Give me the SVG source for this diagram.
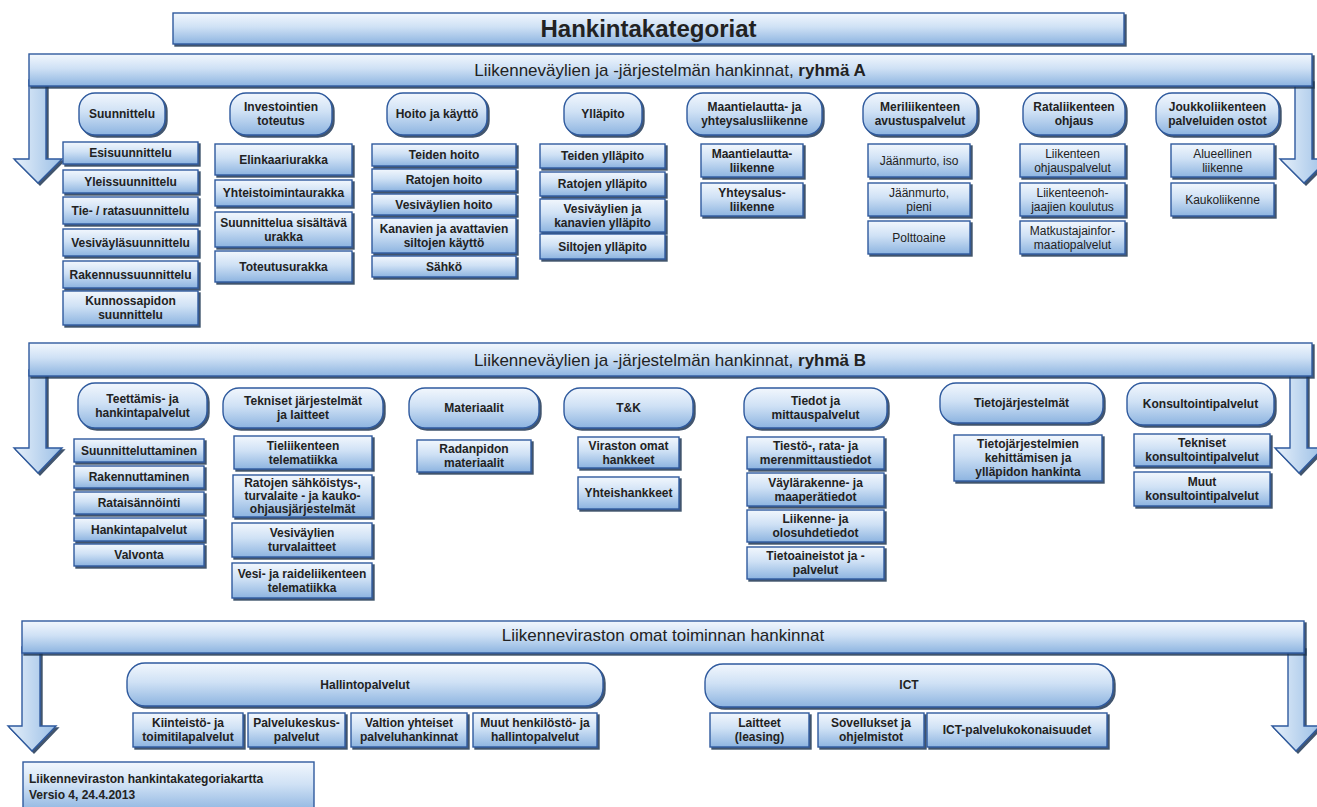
<svg xmlns="http://www.w3.org/2000/svg" width="1317" height="807" viewBox="0 0 1317 807">
<defs>
<linearGradient id="gv" x1="0" y1="0" x2="0" y2="1">
<stop offset="0" stop-color="#f2f7fd"/>
<stop offset="0.45" stop-color="#cfe1f5"/>
<stop offset="1" stop-color="#8db4e0"/>
</linearGradient>
<linearGradient id="gh" x1="0" y1="0" x2="1" y2="0">
<stop offset="0" stop-color="#e6f0fa"/>
<stop offset="1" stop-color="#9bbfe6"/>
</linearGradient>
<filter id="sh" x="-5%" y="-10%" width="115%" height="140%">
<feDropShadow dx="2" dy="2" stdDeviation="0.6" flood-color="#1d3552" flood-opacity="0.85"/>
</filter>
</defs>
<style>
.box{fill:url(#gv);stroke:#2f5a9e;stroke-width:1.4;filter:url(#sh)}
.pill{fill:url(#gv);stroke:#2f5a9e;stroke-width:1.4;filter:url(#sh)}
.arr{fill:url(#gh);stroke:#2f5a9e;stroke-width:1.4;filter:url(#sh)}
.ban{fill:url(#gv);stroke:#2f5a9e;stroke-width:1.4;filter:url(#sh)}
text{font-family:"Liberation Sans",Arial,sans-serif;fill:#222;text-anchor:middle}
.b{font-size:12px;font-weight:bold}
.r{font-size:12px}
.bt{font-size:17px}
.tt{font-size:24px;font-weight:bold}
.ft{font-size:12px;font-weight:bold;text-anchor:start}
</style>

<g id="title"><rect class="box" x="173" y="13" width="951" height="31"/><text class="tt" x="648.5" y="37">Hankintakategoriat</text></g>

<g id="connectors">
<polygon class="arr" points="29,80 46,80 46,159 62,159 38,183 14,159 29,159"/>
<polygon class="arr" points="1295,80 1312,80 1312,159 1328,159 1304,183 1280,159 1295,159"/>
<polygon class="arr" points="29,370 46,370 46,448 62,448 38,473 14,448 29,448"/>
<polygon class="arr" points="1290,370 1307,370 1307,448 1323,448 1299,473 1275,448 1290,448"/>
<polygon class="arr" points="22,647 40,647 40,726 56,726 32,751 8,726 22,726"/>
<polygon class="arr" points="1288,647 1304,647 1304,726 1320,726 1296,751 1272,726 1288,726"/>
</g>

<g id="banner-a"><rect class="ban" x="29" y="54" width="1283" height="32"/><text class="bt" x="670" y="76">Liikenneväylien ja -järjestelmän hankinnat, <tspan font-weight="bold">ryhmä A</tspan></text></g>
<g id="banner-b"><rect class="ban" x="29" y="343" width="1283" height="33"/><text class="bt" x="670" y="366">Liikenneväylien ja -järjestelmän hankinnat, <tspan font-weight="bold">ryhmä B</tspan></text></g>
<g id="banner-c"><rect class="ban" x="22" y="621" width="1282" height="32"/><text class="bt" x="663" y="641">Liikenneviraston omat toiminnan hankinnat</text></g>

<!-- Group A categories -->
<g id="a-suunnittelu"><rect class="pill" x="79" y="93" width="86" height="42" rx="16"/><text class="b" x="122" y="118">Suunnittelu</text></g>
<g id="a-investointien"><rect class="pill" x="230" y="93" width="102" height="42" rx="16"/><text class="b" x="281" y="111">Investointien</text><text class="b" x="281" y="125">toteutus</text></g>
<g id="a-hoito"><rect class="pill" x="387" y="93" width="100" height="42" rx="16"/><text class="b" x="437" y="118">Hoito ja käyttö</text></g>
<g id="a-yllapito"><rect class="pill" x="564" y="93" width="78" height="42" rx="16"/><text class="b" x="603" y="118">Ylläpito</text></g>
<g id="a-maantielautta"><rect class="pill" x="687" y="93" width="135" height="42" rx="16"/><text class="b" x="754.5" y="111">Maantielautta- ja</text><text class="b" x="754.5" y="125">yhteysalusliikenne</text></g>
<g id="a-meriliikenne"><rect class="pill" x="863" y="93" width="114" height="42" rx="16"/><text class="b" x="920" y="111">Meriliikenteen</text><text class="b" x="920" y="125">avustuspalvelut</text></g>
<g id="a-rataliikenne"><rect class="pill" x="1023" y="93" width="102" height="42" rx="16"/><text class="b" x="1074" y="111">Rataliikenteen</text><text class="b" x="1074" y="125">ohjaus</text></g>
<g id="a-joukkoliikenne"><rect class="pill" x="1156" y="93" width="123" height="42" rx="16"/><text class="b" x="1217.5" y="111">Joukkoliikenteen</text><text class="b" x="1217.5" y="125">palveluiden ostot</text></g>

<!-- Group A items -->
<g id="a1-1"><rect class="box" x="63" y="142" width="135" height="22"/><text class="b" x="130.5" y="157">Esisuunnittelu</text></g>
<g id="a1-2"><rect class="box" x="63" y="170" width="135" height="23"/><text class="b" x="130.5" y="185.5">Yleissuunnittelu</text></g>
<g id="a1-3"><rect class="box" x="63" y="197" width="135" height="27"/><text class="b" x="130.5" y="214.5">Tie- / ratasuunnittelu</text></g>
<g id="a1-4"><rect class="box" x="63" y="229" width="135" height="27"/><text class="b" x="130.5" y="246.5">Vesiväyläsuunnittelu</text></g>
<g id="a1-5"><rect class="box" x="63" y="261" width="135" height="27"/><text class="b" x="130.5" y="278.5">Rakennussuunnittelu</text></g>
<g id="a1-6"><rect class="box" x="63" y="291" width="135" height="34"/><text class="b" x="130.5" y="305">Kunnossapidon</text><text class="b" x="130.5" y="319">suunnittelu</text></g>

<g id="a2-1"><rect class="box" x="215" y="144" width="137" height="31"/><text class="b" x="283.5" y="163.5">Elinkaariurakka</text></g>
<g id="a2-2"><rect class="box" x="215" y="180" width="137" height="26"/><text class="b" x="283.5" y="197">Yhteistoimintaurakka</text></g>
<g id="a2-3"><rect class="box" x="215" y="212" width="137" height="35"/><text class="b" x="283.5" y="226.5">Suunnittelua sisältävä</text><text class="b" x="283.5" y="240.5">urakka</text></g>
<g id="a2-4"><rect class="box" x="215" y="251" width="137" height="31"/><text class="b" x="283.5" y="270.5">Toteutusurakka</text></g>

<g id="a3-1"><rect class="box" x="372" y="144" width="144" height="22"/><text class="b" x="444" y="159">Teiden hoito</text></g>
<g id="a3-2"><rect class="box" x="372" y="169" width="144" height="22"/><text class="b" x="444" y="184">Ratojen hoito</text></g>
<g id="a3-3"><rect class="box" x="372" y="194" width="144" height="21"/><text class="b" x="444" y="208.5">Vesiväylien hoito</text></g>
<g id="a3-4"><rect class="box" x="372" y="218" width="144" height="35"/><text class="b" x="444" y="232.5">Kanavien ja avattavien</text><text class="b" x="444" y="246.5">siltojen käyttö</text></g>
<g id="a3-5"><rect class="box" x="372" y="256" width="144" height="21"/><text class="b" x="444" y="270.5">Sähkö</text></g>

<g id="a4-1"><rect class="box" x="540" y="144" width="125" height="24"/><text class="b" x="602.5" y="160">Teiden ylläpito</text></g>
<g id="a4-2"><rect class="box" x="540" y="172" width="125" height="24"/><text class="b" x="602.5" y="188">Ratojen ylläpito</text></g>
<g id="a4-3"><rect class="box" x="540" y="199" width="125" height="33"/><text class="b" x="602.5" y="212.5">Vesiväylien ja</text><text class="b" x="602.5" y="226.5">kanavien ylläpito</text></g>
<g id="a4-4"><rect class="box" x="540" y="234" width="125" height="25"/><text class="b" x="602.5" y="250.5">Siltojen ylläpito</text></g>

<g id="a5-1"><rect class="box" x="701" y="144" width="102" height="33"/><text class="b" x="752" y="157.5">Maantielautta-</text><text class="b" x="752" y="171.5">liikenne</text></g>
<g id="a5-2"><rect class="box" x="701" y="183" width="102" height="33"/><text class="b" x="752" y="196.5">Yhteysalus-</text><text class="b" x="752" y="210.5">liikenne</text></g>

<g id="a6-1"><rect class="box" x="868" y="144" width="102" height="33"/><text class="r" x="919" y="164.5">Jäänmurto, iso</text></g>
<g id="a6-2"><rect class="box" x="868" y="183" width="102" height="33"/><text class="r" x="919" y="196.5">Jäänmurto,</text><text class="r" x="919" y="210.5">pieni</text></g>
<g id="a6-3"><rect class="box" x="868" y="221" width="102" height="33"/><text class="r" x="919" y="241.5">Polttoaine</text></g>

<g id="a7-1"><rect class="box" x="1020" y="144" width="105" height="33"/><text class="r" x="1072.5" y="157.5">Liikenteen</text><text class="r" x="1072.5" y="171.5">ohjauspalvelut</text></g>
<g id="a7-2"><rect class="box" x="1020" y="183" width="105" height="33"/><text class="r" x="1072.5" y="196.5">Liikenteenoh-</text><text class="r" x="1072.5" y="210.5">jaajien koulutus</text></g>
<g id="a7-3"><rect class="box" x="1020" y="221" width="105" height="33"/><text class="r" x="1072.5" y="234.5">Matkustajainfor-</text><text class="r" x="1072.5" y="248.5">maatiopalvelut</text></g>

<g id="a8-1"><rect class="box" x="1171" y="144" width="103" height="33"/><text class="r" x="1222.5" y="157.5">Alueellinen</text><text class="r" x="1222.5" y="171.5">liikenne</text></g>
<g id="a8-2"><rect class="box" x="1171" y="183" width="103" height="33"/><text class="r" x="1222.5" y="203.5">Kaukoliikenne</text></g>

<!-- Group B categories -->
<g id="b-teettamis"><rect class="pill" x="78" y="383" width="129" height="45" rx="17"/><text class="b" x="142.5" y="402.5">Teettämis- ja</text><text class="b" x="142.5" y="416.5">hankintapalvelut</text></g>
<g id="b-tekniset"><rect class="pill" x="223" y="388" width="160" height="40" rx="16"/><text class="b" x="303" y="405">Tekniset järjestelmät</text><text class="b" x="303" y="419">ja laitteet</text></g>
<g id="b-materiaalit"><rect class="pill" x="409" y="388" width="130" height="40" rx="16"/><text class="b" x="474" y="412">Materiaalit</text></g>
<g id="b-tk"><rect class="pill" x="564" y="388" width="129" height="40" rx="16"/><text class="b" x="628.5" y="412">T&amp;K</text></g>
<g id="b-tiedot"><rect class="pill" x="744" y="388" width="143" height="40" rx="16"/><text class="b" x="815.5" y="405">Tiedot ja</text><text class="b" x="815.5" y="419">mittauspalvelut</text></g>
<g id="b-tietojarjestelmat"><rect class="pill" x="940" y="383" width="163" height="40" rx="16"/><text class="b" x="1021.5" y="407">Tietojärjestelmät</text></g>
<g id="b-konsultointi"><rect class="pill" x="1127" y="383" width="147" height="42" rx="16"/><text class="b" x="1200.5" y="408">Konsultointipalvelut</text></g>

<!-- Group B items -->
<g id="b1-1"><rect class="box" x="74" y="439" width="130" height="23"/><text class="b" x="139" y="454.5">Suunnitteluttaminen</text></g>
<g id="b1-2"><rect class="box" x="74" y="466" width="130" height="22"/><text class="b" x="139" y="481">Rakennuttaminen</text></g>
<g id="b1-3"><rect class="box" x="74" y="492" width="130" height="22"/><text class="b" x="139" y="507">Rataisännöinti</text></g>
<g id="b1-4"><rect class="box" x="74" y="518" width="130" height="23"/><text class="b" x="139" y="533.5">Hankintapalvelut</text></g>
<g id="b1-5"><rect class="box" x="74" y="544" width="130" height="22"/><text class="b" x="139" y="559">Valvonta</text></g>

<g id="b2-1"><rect class="box" x="234" y="436" width="138" height="33"/><text class="b" x="303" y="449.5">Tieliikenteen</text><text class="b" x="303" y="463.5">telematiikka</text></g>
<g id="b2-2"><rect class="box" x="233" y="475" width="139" height="42"/><text class="b" x="302.5" y="487">Ratojen sähköistys-,</text><text class="b" x="302.5" y="500">turvalaite - ja kauko-</text><text class="b" x="302.5" y="513">ohjausjärjestelmät</text></g>
<g id="b2-3"><rect class="box" x="232" y="523" width="140" height="34"/><text class="b" x="302" y="537">Vesiväylien</text><text class="b" x="302" y="551">turvalaitteet</text></g>
<g id="b2-4"><rect class="box" x="232" y="563" width="140" height="35"/><text class="b" x="302" y="577.5">Vesi- ja raideliikenteen</text><text class="b" x="302" y="591.5">telematiikka</text></g>

<g id="b3-1"><rect class="box" x="417" y="440" width="114" height="32"/><text class="b" x="474" y="453">Radanpidon</text><text class="b" x="474" y="467">materiaalit</text></g>

<g id="b4-1"><rect class="box" x="578" y="437" width="101" height="31"/><text class="b" x="628.5" y="449.5">Viraston omat</text><text class="b" x="628.5" y="463.5">hankkeet</text></g>
<g id="b4-2"><rect class="box" x="578" y="477" width="101" height="32"/><text class="b" x="628.5" y="497">Yhteishankkeet</text></g>

<g id="b5-1"><rect class="box" x="747" y="437" width="137" height="32"/><text class="b" x="815.5" y="450">Tiestö-, rata- ja</text><text class="b" x="815.5" y="464">merenmittaustiedot</text></g>
<g id="b5-2"><rect class="box" x="747" y="473" width="137" height="33"/><text class="b" x="815.5" y="486.5">Väylärakenne- ja</text><text class="b" x="815.5" y="500.5">maaperätiedot</text></g>
<g id="b5-3"><rect class="box" x="747" y="510" width="137" height="32"/><text class="b" x="815.5" y="523">Liikenne- ja</text><text class="b" x="815.5" y="537">olosuhdetiedot</text></g>
<g id="b5-4"><rect class="box" x="747" y="547" width="137" height="32"/><text class="b" x="815.5" y="560">Tietoaineistot ja -</text><text class="b" x="815.5" y="574">palvelut</text></g>

<g id="b6-1"><rect class="box" x="954" y="435" width="148" height="46"/><text class="b" x="1028" y="448">Tietojärjestelmien</text><text class="b" x="1028" y="462">kehittämisen ja</text><text class="b" x="1028" y="476">ylläpidon hankinta</text></g>

<g id="b7-1"><rect class="box" x="1134" y="434" width="136" height="32"/><text class="b" x="1202" y="447">Tekniset</text><text class="b" x="1202" y="461">konsultointipalvelut</text></g>
<g id="b7-2"><rect class="box" x="1134" y="472" width="136" height="34"/><text class="b" x="1202" y="486">Muut</text><text class="b" x="1202" y="500">konsultointipalvelut</text></g>

<!-- Group C -->
<g id="c-hallinto"><rect class="pill" x="127" y="663" width="476" height="43" rx="18"/><text class="b" x="365" y="688.5">Hallintopalvelut</text></g>
<g id="c-ict"><rect class="pill" x="705" y="664" width="408" height="43" rx="18"/><text class="b" x="909" y="689">ICT</text></g>

<g id="c1"><rect class="box" x="133" y="713" width="110" height="34"/><text class="b" x="188" y="727">Kiinteistö- ja</text><text class="b" x="188" y="741">toimitilapalvelut</text></g>
<g id="c2"><rect class="box" x="248" y="713" width="97" height="34"/><text class="b" x="296.5" y="727">Palvelukeskus-</text><text class="b" x="296.5" y="741">palvelut</text></g>
<g id="c3"><rect class="box" x="351" y="713" width="116" height="34"/><text class="b" x="409" y="727">Valtion yhteiset</text><text class="b" x="409" y="741">palveluhankinnat</text></g>
<g id="c4"><rect class="box" x="473" y="713" width="124" height="34"/><text class="b" x="535" y="727">Muut henkilöstö- ja</text><text class="b" x="535" y="741">hallintopalvelut</text></g>
<g id="c5"><rect class="box" x="710" y="713" width="99" height="34"/><text class="b" x="759.5" y="727">Laitteet</text><text class="b" x="759.5" y="741">(leasing)</text></g>
<g id="c6"><rect class="box" x="818" y="713" width="106" height="34"/><text class="b" x="871" y="727">Sovellukset ja</text><text class="b" x="871" y="741">ohjelmistot</text></g>
<g id="c7"><rect class="box" x="927" y="713" width="180" height="34"/><text class="b" x="1017" y="734">ICT-palvelukokonaisuudet</text></g>

<g id="footer"><rect x="23" y="762" width="291" height="50" fill="url(#gv)" stroke="#2f5a9e" stroke-width="1.4"/><text class="ft" x="29" y="783">Liikenneviraston hankintakategoriakartta</text><text class="ft" x="29" y="799">Versio 4, 24.4.2013</text></g>
</svg>
